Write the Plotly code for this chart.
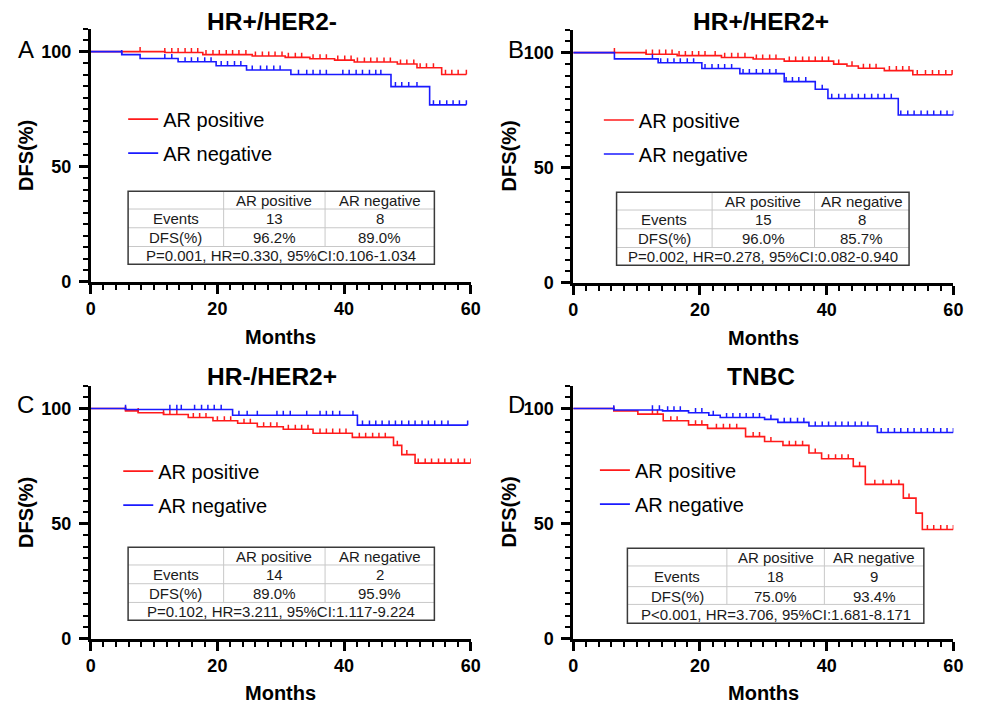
import numpy as np
import plotly.graph_objects as go

# ---------------- DATA ----------------
panel_titles = ["HR+/HER2-", "HR+/HER2+", "HR-/HER2+", "TNBC"]
panel_letters = ["A", "B", "C", "D"]
series_names = ["AR positive", "AR negative"]

# Panel A (HR+/HER2-)
A_pos_t = [11.7, 17.7, 25.5, 30.7, 34.6, 38.5, 41.6, 48.4, 51.5, 55.4]
A_pos_s = [99.6, 98.7, 98.1, 97.5, 96.9, 96.3, 95.5, 94.6, 93.0, 90.1]
A_pos_c = [7.8, 11.7, 12.8, 13.8, 14.9, 15.9, 16.9, 18.2, 19.3, 20.3, 21.4, 22.4, 23.4, 24.5,
           26.0, 27.1, 28.1, 29.1, 30.2, 31.2, 32.3, 33.3, 35.1, 36.2, 37.2, 39.0, 40.1, 41.1,
           42.1, 43.2, 44.2, 45.2, 46.3, 47.3, 48.9, 49.9, 51.0, 52.0, 53.0, 54.1, 56.0, 57.0,
           58.0, 59.3]
A_neg_t = [4.9, 7.8, 13.8, 19.8, 24.6, 31.6, 47.4, 53.5]
A_neg_s = [98.7, 97.0, 95.6, 93.9, 92.0, 90.1, 84.8, 76.9]
A_neg_c = [4.9, 11.7, 12.8, 14.9, 15.9, 16.9, 18.0, 19.0, 20.6, 21.6, 22.7, 23.7, 25.5, 26.8,
           27.8, 28.9, 29.9, 32.8, 34.1, 35.1, 36.2, 37.2, 39.8, 40.8, 41.9, 42.9, 44.0, 45.0,
           45.8, 48.1, 49.1, 50.2, 51.5, 54.1, 55.1, 56.2, 57.2, 58.2, 59.3]

# Panel B (HR+/HER2+)
B_pos_t = [11.5, 16.4, 23.4, 28.4, 33.3, 41.1, 43.2, 45.0, 49.1, 53.6]
B_pos_s = [99.3, 98.7, 97.9, 97.2, 96.3, 95.0, 94.2, 93.2, 92.2, 90.4]
B_pos_c = [6.5, 11.5, 12.5, 13.6, 14.6, 15.6, 16.7, 17.7, 18.8, 19.8, 20.8, 22.4, 23.9, 25.0,
           26.0, 27.1, 28.9, 29.9, 31.0, 32.0, 34.1, 35.1, 36.2, 37.2, 38.2, 39.3, 40.3, 41.9,
           44.0, 45.8, 46.8, 47.8, 49.9, 51.0, 52.0, 53.0, 54.3, 55.6, 56.7, 57.7, 58.8, 59.8]
B_neg_t = [6.5, 13.4, 20.3, 26.3, 33.3, 38.2, 40.2, 51.3]
B_neg_s = [97.3, 95.6, 93.1, 90.9, 87.4, 84.1, 80.1, 72.9]
B_neg_c = [12.5, 13.8, 14.9, 15.9, 16.9, 18.0, 19.0, 20.8, 21.9, 22.9, 23.9, 25.0, 26.8, 27.8,
           28.9, 29.9, 31.0, 32.0, 33.6, 34.6, 35.6, 36.7, 39.3, 40.8, 41.9, 42.9, 44.0, 45.0,
           46.0, 47.1, 48.1, 49.1, 50.2, 51.7, 52.8, 53.8, 54.9, 55.9, 56.9, 58.0, 59.0, 60.0]

# Panel C (HR-/HER2+)
C_pos_t = [5.5, 7.5, 11.5, 15.4, 19.3, 23.2, 26.3, 30.4, 35.1, 41.3, 47.8, 49.1, 51.2]
C_pos_s = [99.0, 98.2, 97.4, 96.1, 94.7, 93.6, 92.1, 91.0, 89.3, 87.5, 84.0, 80.0, 76.3]
C_pos_c = [5.5, 7.5, 11.5, 12.5, 13.6, 16.2, 17.2, 18.2, 20.0, 21.1, 22.1, 24.2, 25.2, 27.3,
           28.4, 29.4, 31.2, 32.3, 33.3, 34.3, 36.2, 37.2, 38.2, 39.3, 40.3, 42.4, 43.4, 44.5,
           45.5, 46.5, 48.4, 49.9, 51.7, 52.8, 53.8, 54.9, 55.9, 56.9, 58.0, 59.0, 60.0]
C_neg_t = [5.5, 22.4, 42.1]
C_neg_s = [99.6, 97.1, 92.8]
C_neg_c = [5.5, 12.5, 13.6, 14.3, 16.4, 17.5, 18.5, 19.5, 20.6, 23.4, 24.7, 26.3, 29.4, 30.4,
           31.5, 34.1, 36.2, 37.2, 38.2, 39.3, 41.4, 42.9, 44.0, 45.0, 46.0, 47.1, 48.1, 49.1,
           50.2, 51.2, 52.3, 53.3, 54.3, 55.4, 56.4, 59.5]

# Panel D (TNBC)
D_pos_t = [6.4, 10.2, 14.2, 18.2, 21.2, 27.2, 30.2, 33.1, 37.2, 39.2, 44.2, 46.1, 52.1, 54.1, 55.1]
D_pos_s = [99.0, 97.6, 94.7, 92.9, 91.4, 87.8, 85.7, 84.0, 80.7, 78.2, 74.9, 67.1, 61.1, 54.6, 47.5]
D_pos_c = [6.4, 12.5, 13.3, 15.4, 16.4, 19.3, 20.3, 22.6, 23.7, 24.7, 25.8, 28.4, 29.4, 31.2,
           34.1, 35.1, 36.2, 38.2, 40.3, 41.4, 42.4, 43.4, 45.2, 47.6, 48.9, 50.2, 51.4, 53.0,
           55.9, 56.9, 58.0, 59.0, 60.0]
D_neg_t = [6.4, 14.1, 18.2, 21.4, 23.2, 30.2, 32.3, 37.2, 48.0]
D_neg_s = [99.4, 99.0, 98.2, 97.1, 96.1, 95.3, 94.0, 92.4, 89.6]
D_neg_c = [6.4, 12.5, 13.6, 14.9, 15.9, 16.9, 19.3, 20.3, 22.1, 24.2, 25.2, 26.3, 27.3, 28.4,
           29.4, 31.2, 33.3, 34.3, 35.4, 36.4, 38.2, 39.3, 40.3, 41.4, 42.4, 43.4, 44.5, 45.5,
           46.5, 48.6, 49.7, 50.7, 51.7, 52.8, 53.8, 54.9, 55.9, 56.9, 58.0, 59.0, 60.0]

# Table contents
table_header = ["", "AR positive", "AR negative"]
row_labels = ["Events", "DFS(%)"]
events_A = ["13", "8"]
events_B = ["15", "8"]
events_C = ["14", "2"]
events_D = ["18", "9"]
dfs_A = ["96.2%", "89.0%"]
dfs_B = ["96.0%", "85.7%"]
dfs_C = ["89.0%", "95.9%"]
dfs_D = ["75.0%", "93.4%"]
stats_A = "P=0.001, HR=0.330, 95%CI:0.106-1.034"
stats_B = "P=0.002, HR=0.278, 95%CI:0.082-0.940"
stats_C = "P=0.102, HR=3.211, 95%CI:1.117-9.224"
stats_D = "P<0.001, HR=3.706, 95%CI:1.681-8.171"

x_ticks = [0, 20, 40, 60]
y_ticks = [0, 50, 100]

# ---------------- LAYOUT GEOMETRY (pixels) ----------------
W, H = 988, 714
FONT = "Liberation Sans, Arial, sans-serif"
RED = "#ff1a1a"
BLUE = "#1a1aff"

def fx(px):
    return px / W

def fy(py):
    return 1 - py / H

panels = [
    dict(key="A", x=(87, 473), y=(29, 286),
         pos=(A_pos_t, A_pos_s, A_pos_c), neg=(A_neg_t, A_neg_s, A_neg_c),
         ev=events_A, dfs=dfs_A, st=stats_A,
         title_xy=(271, 22), letter_xy=(21, 50),
         leg=(120, 101), tab=((125, 222, 325, 436), (194, 212, 231, 250, 268)),
         months_y=342),
    dict(key="B", x=(577, 963), y=(30, 287),
         pos=(B_pos_t, B_pos_s, B_pos_c), neg=(B_neg_t, B_neg_s, B_neg_c),
         ev=events_B, dfs=dfs_B, st=stats_B,
         title_xy=(768, 22), letter_xy=(519, 50),
         leg=(603, 102), tab=((621, 718, 822, 918), (195, 213, 232, 251, 269)),
         months_y=343),
    dict(key="C", x=(87, 473), y=(391, 648),
         pos=(C_pos_t, C_pos_s, C_pos_c), neg=(C_neg_t, C_neg_s, C_neg_c),
         ev=events_C, dfs=dfs_C, st=stats_C,
         title_xy=(271, 382), letter_xy=(21, 410),
         leg=(115, 458), tab=((125, 222, 325, 436), (555, 573, 592, 611, 629)),
         months_y=703),
    dict(key="D", x=(577, 963), y=(391, 648),
         pos=(D_pos_t, D_pos_s, D_pos_c), neg=(D_neg_t, D_neg_s, D_neg_c),
         ev=events_D, dfs=dfs_D, st=stats_D,
         title_xy=(768, 382), letter_xy=(519, 410),
         leg=(599, 457), tab=((632, 733, 832, 933), (556, 574, 595, 613, 632)),
         months_y=703),
]


def step_value(times, surv, t):
    idx = np.searchsorted(np.array(times), t, side="right")
    vals = np.concatenate([[100.0], np.array(surv, dtype=float)])
    return vals[idx]


fig = go.Figure()
layout_axes = {}
annotations = []
shapes = []
legends = {}

for i, p in enumerate(panels):
    n = i + 1
    xa = "x" if n == 1 else f"x{n}"
    ya = "y" if n == 1 else f"y{n}"
    lg = "legend" if n == 1 else f"legend{n}"

    for (t, s, c), name, color in [(p["pos"], series_names[0], RED),
                                   (p["neg"], series_names[1], BLUE)]:
        end_t = max(max(c), max(t))
        xs = [0] + list(t) + [end_t]
        ys = [100] + list(s) + [s[-1]]
        fig.add_trace(go.Scatter(
            x=xs, y=ys, mode="lines", line=dict(color=color, width=1.6, shape="hv"),
            name=name, xaxis=xa, yaxis=ya, legend=lg, legendgroup=f"{p['key']}{name}",
            hoverinfo="skip"))
        cy = [step_value(t, s, ct) for ct in c]
        fig.add_trace(go.Scatter(
            x=c, y=cy, mode="markers", marker=dict(size=0.1, color=color),
            error_y=dict(type="data", symmetric=False, array=[2.0] * len(c),
                         arrayminus=[0] * len(c), width=0, thickness=1.5, color=color),
            showlegend=False, xaxis=xa, yaxis=ya, hoverinfo="skip"))

    common = dict(showline=True, linecolor="black", linewidth=2.5, ticks="outside",
                  ticklen=9, tickwidth=2.5, tickcolor="black", showgrid=False, zeroline=False,
                  tickfont=dict(family=FONT, size=18, color="black", weight="bold"),
                  minor=dict(ticks="outside", ticklen=5, tickwidth=2, tickcolor="black",
                             showgrid=False))
    layout_axes["xaxis" if n == 1 else f"xaxis{n}"] = dict(
        common, domain=[fx(p["x"][0]), fx(p["x"][1])], range=[0, 60],
        tickvals=x_ticks, anchor=ya, fixedrange=True,
        minor=dict(common["minor"], dtick=2, tick0=0))
    layout_axes["yaxis" if n == 1 else f"yaxis{n}"] = dict(
        common, domain=[fy(p["y"][1]), fy(p["y"][0])], range=[0, 110],
        tickvals=y_ticks, anchor=xa, fixedrange=True, ticklabelstandoff=4,
        minor=dict(common["minor"], dtick=5, tick0=0))

    legends[lg] = dict(x=fx(p["leg"][0]), y=fy(p["leg"][1]), xanchor="left", yanchor="top",
                       bgcolor="rgba(0,0,0,0)", borderwidth=0, tracegroupgap=5,
                       font=dict(family=FONT, size=20, color="black"), itemwidth=30)

    # Titles, letters, axis titles
    annotations.append(dict(text=panel_titles[i], x=fx(p["title_xy"][0]), y=fy(p["title_xy"][1]),
                            xref="paper", yref="paper", showarrow=False, xanchor="center",
                            yanchor="middle",
                            font=dict(family=FONT, size=24.5, color="black", weight="bold")))
    annotations.append(dict(text=panel_letters[i], x=fx(p["letter_xy"][0]), y=fy(p["letter_xy"][1]),
                            xref="paper", yref="paper", showarrow=False, xanchor="center",
                            yanchor="middle", font=dict(family=FONT, size=24, color="black")))
    annotations.append(dict(text="DFS(%)", x=fx(p["x"][0] - 65), y=fy((p["y"][0] + p["y"][1]) / 2),
                            xref="paper", yref="paper", showarrow=False, textangle=-90,
                            xanchor="center", yanchor="middle",
                            font=dict(family=FONT, size=20, color="black", weight="bold")))
    annotations.append(dict(text="Months", x=fx((p["x"][0] + p["x"][1]) / 2), y=fy(p["months_y"]),
                            xref="paper", yref="paper", showarrow=False, xanchor="center",
                            yanchor="middle",
                            font=dict(family=FONT, size=20, color="black", weight="bold")))

    # Table
    (x0, x1, x2, x3), (y0, y1, y2, y3, y4) = p["tab"]
    inner = dict(color="#c8c8c8", width=1)
    for yy in (y1, y2, y3):
        shapes.append(dict(type="line", xref="paper", yref="paper", x0=fx(x0), x1=fx(x3),
                           y0=fy(yy), y1=fy(yy), line=inner))
    for xx in (x1, x2):
        shapes.append(dict(type="line", xref="paper", yref="paper", x0=fx(xx), x1=fx(xx),
                           y0=fy(y0), y1=fy(y3), line=inner))
    shapes.append(dict(type="rect", xref="paper", yref="paper", x0=fx(x0), x1=fx(x3),
                       y0=fy(y4), y1=fy(y0), line=dict(color="#3a3a3a", width=1.5)))
    cols = [(x0 + x1) / 2, (x1 + x2) / 2, (x2 + x3) / 2]
    rows = [(y0 + y1) / 2, (y1 + y2) / 2, (y2 + y3) / 2]
    cells = [table_header, [row_labels[0]] + p["ev"], [row_labels[1]] + p["dfs"]]
    tfont = dict(family=FONT, size=15, color="#1a1a1a")
    for r, rowvals in zip(rows, cells):
        for cx, txt in zip(cols, rowvals):
            if txt:
                annotations.append(dict(text=txt, x=fx(cx), y=fy(r + 0.5), xref="paper",
                                        yref="paper", showarrow=False, xanchor="center",
                                        yanchor="middle", font=tfont))
    annotations.append(dict(text=p["st"], x=fx((x0 + x3) / 2), y=fy((y3 + y4) / 2 + 0.5),
                            xref="paper", yref="paper", showarrow=False, xanchor="center",
                            yanchor="middle", font=tfont))

fig.update_layout(
    width=W, height=H, margin=dict(l=0, r=0, t=0, b=0),
    paper_bgcolor="white", plot_bgcolor="white",
    annotations=annotations, shapes=shapes, showlegend=True,
    **layout_axes, **legends,
)

fig.write_html(
    "out.html",
    config={"displayModeBar": False, "staticPlot": False},
    post_script="document.body.style.margin='0';document.body.style.overflow='hidden';",
)
